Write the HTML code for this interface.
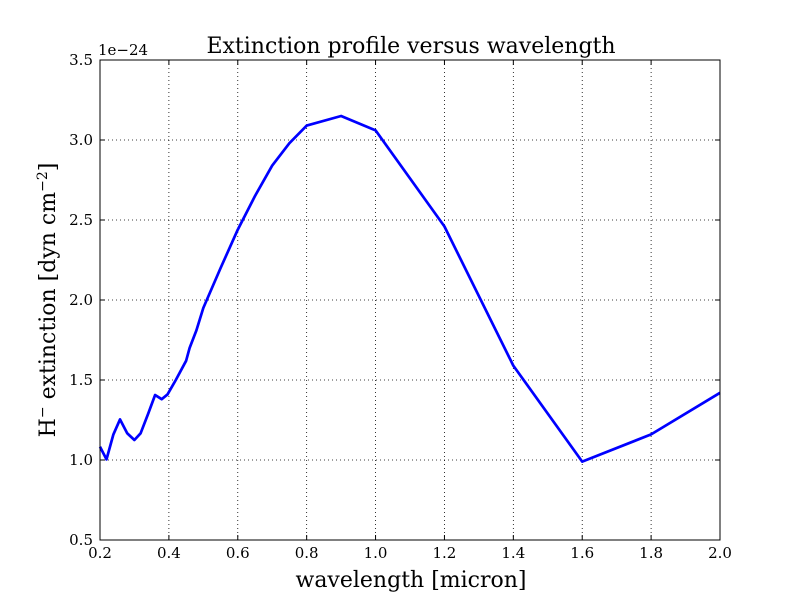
<!DOCTYPE html>
<html><head><meta charset="utf-8"><style>
body{margin:0;background:#fff;}
text{font-family:"DejaVu Serif","Liberation Serif",serif;}
</style></head><body>
<svg id="chart" width="800" height="600" xmlns="http://www.w3.org/2000/svg">
<rect width="800" height="600" fill="#fff"/>
<g id="grid"></g>
<g id="ticks"></g>
<path id="line" fill="none" stroke="#0000ff" stroke-width="2.7" stroke-linejoin="round"/>
<rect x="100" y="60" width="620" height="480" fill="none" stroke="#000" stroke-width="1"/>
<text x="411" y="53" font-size="22" text-anchor="middle">Extinction profile versus wavelength</text>
<text x="98" y="55" font-size="15">1e−24</text>
<text x="411" y="587" font-size="22" text-anchor="middle">wavelength [micron]</text>
<text transform="translate(55,300) rotate(-90)" font-size="22" text-anchor="middle">H<tspan dy="-8" font-size="14">−</tspan><tspan dy="8">  extinction [dyn cm</tspan><tspan dy="-8" font-size="14">−2</tspan><tspan dy="8">]</tspan></text>
</svg>
<script>
const wavelengths=[0.2,0.219,0.239,0.258,0.279,0.3,0.318,0.34,0.36,0.379,0.396,0.42,0.45,0.46,0.48,0.5,0.55,0.6,0.65,0.7,0.75,0.8,0.9,1.0,1.2,1.4,1.6,1.8,2.0];
const extinction=[1.083,1.004,1.16,1.254,1.167,1.125,1.167,1.29,1.406,1.38,1.41,1.5,1.62,1.7,1.81,1.95,2.2,2.44,2.65,2.84,2.98,3.09,3.15,3.06,2.46,1.59,0.99,1.16,1.42];
const xTicks=[0.2,0.4,0.6,0.8,1.0,1.2,1.4,1.6,1.8,2.0];
const yTicks=[0.5,1.0,1.5,2.0,2.5,3.0,3.5];
const X=v=>100+(v-0.2)/1.8*620;
const Y=v=>540-(v-0.5)/3*480;
const NS="http://www.w3.org/2000/svg";
const grid=document.getElementById('grid'),ticks=document.getElementById('ticks');
function mk(tag,attrs,parent,txt){const e=document.createElementNS(NS,tag);for(const k in attrs)e.setAttribute(k,attrs[k]);if(txt!==undefined)e.textContent=txt;parent.appendChild(e);return e;}
xTicks.forEach(t=>{const x=X(t);
 const g=mk('line',{x1:x,x2:x,y1:60,y2:540,stroke:'#000','stroke-dasharray':'1,3','stroke-width':0.8},grid);
 
 
 mk('line',{x1:x,x2:x,y1:540,y2:535,stroke:'#000'},ticks);
 mk('line',{x1:x,x2:x,y1:60,y2:65,stroke:'#000'},ticks);
 const l=mk('text',{x:x,y:558,'font-size':15,'text-anchor':'middle'},ticks,t.toFixed(1));
 
 
});
yTicks.forEach(t=>{const y=Y(t);
 const g=mk('line',{x1:100,x2:720,y1:y,y2:y,stroke:'#000','stroke-dasharray':'1,3','stroke-width':0.8},grid);
 
 
 mk('line',{x1:100,x2:105,y1:y,y2:y,stroke:'#000'},ticks);
 mk('line',{x1:720,x2:715,y1:y,y2:y,stroke:'#000'},ticks);
 const l=mk('text',{x:93,y:y+5,'font-size':15,'text-anchor':'end'},ticks,t.toFixed(1));
 
 
});
document.getElementById('line').setAttribute('d',wavelengths.map((w,i)=>(i?'L':'M')+X(w).toFixed(1)+','+Y(extinction[i]).toFixed(1)).join(''));
</script>
</body></html>
